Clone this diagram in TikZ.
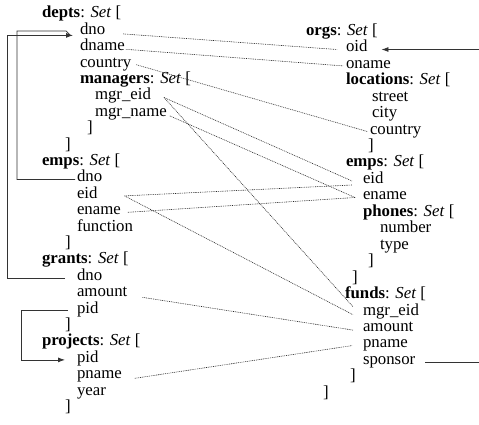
\documentclass[tikz,border=0pt]{standalone}
\usepackage{fontspec}
\setmainfont{Liberation Serif}
\usetikzlibrary{arrows.meta}
\begin{document}
\begin{tikzpicture}[x=1pt,y=-1pt,
  fld/.style={anchor=mid west,inner sep=0pt,outer sep=0pt,font=\fontsize{16.8pt}{16.5pt}\selectfont},
  dotl/.style={line width=0.6pt,dash pattern=on 0.9pt off 0.9pt,black!85},
  sl/.style={line width=0.8pt,black!80},
  arr/.style={-{Latex[length=7pt,width=5pt]}}]
\useasboundingbox (0,-3) rectangle (479,421);
% left schema
\node[fld] (ldepts) at (42,12.5) {\textbf{depts}: \textit{Set} [};
\node[fld] (ddno) at (80,28.9) {dno};
\node[fld] (ddname) at (80,45.3) {dname};
\node[fld] (dcountry) at (80,61.7) {country};
\node[fld] (dmanagers) at (80,78.1) {\textbf{managers}: \textit{Set} [};
\node[fld] (mgreid) at (95,94.5) {mgr\_eid};
\node[fld] (mgrname) at (95,110.9) {mgr\_name};
\node[fld] (mclose) at (87,127.3) {]};
\node[fld] (dclose) at (65,143.7) {]};
\node[fld] (lemps) at (42,160.1) {\textbf{emps}: \textit{Set} [};
\node[fld] (edno) at (77,176.5) {dno};
\node[fld] (eeid) at (77,192.9) {eid};
\node[fld] (eename) at (77,209.3) {ename};
\node[fld] (efunction) at (77,225.7) {function};
\node[fld] (eclose) at (65,242.1) {]};
\node[fld] (lgrants) at (42,258.5) {\textbf{grants}: \textit{Set} [};
\node[fld] (gdno) at (77,274.9) {dno};
\node[fld] (gamount) at (77,291.3) {amount};
\node[fld] (gpid) at (77,307.7) {pid};
\node[fld] (gclose) at (65,324.1) {]};
\node[fld] (lprojects) at (42,340.5) {\textbf{projects}: \textit{Set} [};
\node[fld] (ppid) at (77,356.9) {pid};
\node[fld] (ppname) at (77,373.3) {pname};
\node[fld] (pyear) at (77,389.7) {year};
\node[fld] (pclose) at (65,406.1) {]};
% right schema
\node[fld] (rorgs) at (306,30) {\textbf{orgs}: \textit{Set} [};
\node[fld] (ooid) at (346,46.5) {oid};
\node[fld] (ooname) at (346,62.9) {oname};
\node[fld] (olocations) at (346,79.4) {\textbf{locations}: \textit{Set} [};
\node[fld] (lstreet) at (372,95.8) {street};
\node[fld] (lcity) at (372,112.3) {city};
\node[fld] (lcountry) at (370,128.7) {country};
\node[fld] (lclose) at (368,145.2) {]};
\node[fld] (remps) at (346,161.6) {\textbf{emps}: \textit{Set} [};
\node[fld] (reid) at (363,178) {eid};
\node[fld] (rename) at (363,194.5) {ename};
\node[fld] (rphones) at (363,211) {\textbf{phones}: \textit{Set} [};
\node[fld] (phnumber) at (380,227.4) {number};
\node[fld] (phtype) at (380,243.9) {type};
\node[fld] (phclose) at (368,260.3) {]};
\node[fld] (reclose) at (352,276.8) {]};
\node[fld] (rfunds) at (345,293.2) {\textbf{funds}: \textit{Set} [};
\node[fld] (fmgreid) at (363,309.7) {mgr\_eid};
\node[fld] (famount) at (363,326.1) {amount};
\node[fld] (fpname) at (363,342.6) {pname};
\node[fld] (fsponsor) at (363,359) {sponsor};
\node[fld] (fclose) at (350,375.5) {]};
\node[fld] (oclose) at (323,391.9) {]};
% dotted correspondences
\draw[dotl] ([xshift=18pt,yshift=-2pt]ddno.mid east) -- ([xshift=-9pt]ooid.mid west);
\draw[dotl] ([xshift=1pt,yshift=-1pt]ddname.mid east) -- ([xshift=-3pt]ooname.mid west);
\draw[dotl] ([xshift=5pt]dcountry.mid east) -- ([xshift=-2pt]lcountry.mid west);
\draw[dotl] ([xshift=13pt]mgreid.mid east) -- ([xshift=-11pt]reid.mid west);
\draw[dotl] ([xshift=13pt]mgreid.mid east) -- ([xshift=-10pt,yshift=6pt]fmgreid.mid west);
\draw[dotl] ([xshift=3pt,yshift=-2pt]mgrname.mid east) -- ([xshift=-8pt]rename.mid west);
\draw[dotl] ([xshift=27pt]eeid.mid east) -- ([xshift=-11pt,yshift=-4pt]reid.mid west);
\draw[dotl] ([xshift=27pt]eeid.mid east) -- ([xshift=-10pt,yshift=-2pt]fmgreid.mid west);
\draw[dotl] ([xshift=7pt]eename.mid east) -- ([xshift=-8pt]rename.mid west);
\draw[dotl] ([xshift=15pt,yshift=-3pt]gamount.mid east) -- ([xshift=-10pt,yshift=-1pt]famount.mid west);
\draw[dotl] ([xshift=13pt,yshift=-2pt]ppname.mid east) -- ([xshift=-11pt]fpname.mid west);
% solid references
\coordinate (xin) at (17,0);
\coordinate (xout) at (7,0);
\coordinate (xp) at (21,0);
\coordinate (xR) at (479,0);
\coordinate (tip) at ([xshift=-7pt,yshift=-3.5pt]ddno.mid west);
\coordinate (a1) at ([xshift=-2pt]edno.mid west);
\coordinate (c1) at ([xshift=-14pt,yshift=1pt]ddno.mid west);
\coordinate (c1b) at ([xshift=-10pt,yshift=-3pt]ddno.mid west);
\draw[sl] (a1) -- (a1 -| xin) |- (c1) -- (c1b);
\coordinate (a2) at ([xshift=-12pt]gdno.mid west);
\draw[sl,arr] (a2) -- (a2 -| xout) |- (tip);
\coordinate (a3) at ([xshift=-9pt]gpid.mid west);
\coordinate (t3) at ([xshift=-12pt]ppid.mid west);
\draw[sl,arr] (a3) -- (a3 -| xp) |- (t3);
\coordinate (t4) at ([xshift=14pt]ooid.mid east);
\draw[sl,arr] (t4 -| xR) -- (t4);
\coordinate (a5) at ([xshift=10pt]fsponsor.mid east);
\draw[sl] (a5) -- (a5 -| xR);
\end{tikzpicture}
\end{document}
